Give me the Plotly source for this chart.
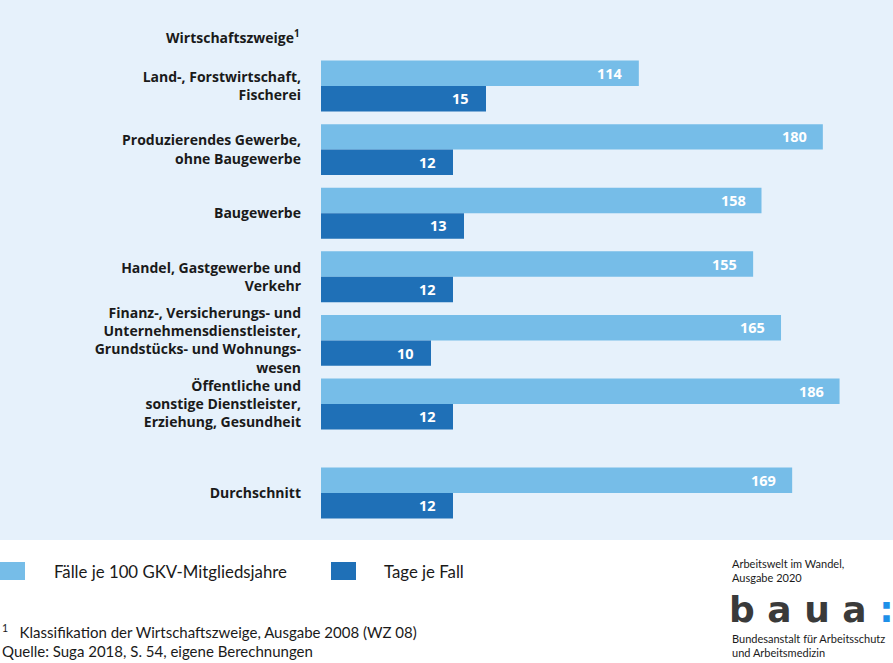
import plotly.graph_objects as go

categories = [
    "Land-, Forstwirtschaft,<br>Fischerei",
    "Produzierendes Gewerbe,<br>ohne Baugewerbe",
    "Baugewerbe",
    "Handel, Gastgewerbe und<br>Verkehr",
    "Finanz-, Versicherungs- und<br>Unternehmensdienstleister,<br>Grundstücks- und Wohnungs-<br>wesen",
    "Öffentliche und<br>sonstige Dienstleister,<br>Erziehung, Gesundheit",
    "Durchschnitt",
]
faelle = [114, 180, 158, 155, 165, 186, 169]
tage = [15, 12, 13, 12, 10, 12, 12]
series_names = ["Fälle je 100 GKV-Mitgliedsjahre", "Tage je Fall"]

LIGHT = "#76BDE8"
DARK = "#1F70B7"
PANEL = "#E6F1FB"
TXT = "#1a1a1a"
FONT = "Lato"
LABFONT = "Open Sans"

# group positions: extra gap before the average row
n = len(categories)
pos = [float(i) for i in range(n - 1)] + [n - 1 + 0.4]

fig = go.Figure()
fig.add_trace(go.Bar(
    y=pos, x=faelle, orientation="h", name=series_names[0],
    marker=dict(color=LIGHT, line=dict(width=0)),
    width=0.4, offset=-0.4, xaxis="x", yaxis="y", showlegend=False,
    hoverinfo="x",
))
fig.add_trace(go.Bar(
    y=pos, x=tage, orientation="h", name=series_names[1],
    marker=dict(color=DARK, line=dict(width=0)),
    width=0.4, offset=0.0, xaxis="x2", yaxis="y", showlegend=False,
    hoverinfo="x",
))

W = 552.0
H = 490.0
L = 321.0
T = 40.0
B = T + H


def px(xp):
    return (xp - L) / W


def py(yp):
    return (B - yp) / H


annotations = []
for p, v in zip(pos, faelle):
    annotations.append(dict(x=v, y=p - 0.2, xref="x", yref="y", text=f"<b>{v}</b>",
                            xanchor="right", xshift=-14, showarrow=False,
                            font=dict(family=LABFONT, size=14.5, color="white")))
for p, v in zip(pos, tage):
    annotations.append(dict(x=v, y=p + 0.2, xref="x2", yref="y", text=f"<b>{v}</b>",
                            xanchor="right", xshift=-15, showarrow=False,
                            font=dict(family=LABFONT, size=14.5, color="white")))

# header
annotations.append(dict(x=px(302), y=py(37), xref="paper", yref="paper", xanchor="right",
                        yanchor="middle", showarrow=False,
                        text="<b>Wirtschaftszweige<sup>1</sup></b>",
                        font=dict(family=LABFONT, size=14, color=TXT)))

shapes = [
    # panel background
    dict(type="rect", xref="paper", yref="paper", x0=px(0), x1=px(893),
         y0=py(540), y1=py(0), fillcolor=PANEL, line=dict(width=0), layer="below"),
    # legend swatches
    dict(type="rect", xref="paper", yref="paper", x0=px(0), x1=px(25),
         y0=py(580), y1=py(562), fillcolor=LIGHT, line=dict(width=0)),
    dict(type="rect", xref="paper", yref="paper", x0=px(331), x1=px(356),
         y0=py(580), y1=py(562), fillcolor=DARK, line=dict(width=0)),
]
annotations.append(dict(x=px(52), y=py(571), xref="paper", yref="paper",
                        xanchor="left", yanchor="middle", showarrow=False, text=series_names[0],
                        font=dict(family=FONT, size=16.8, color=TXT)))
annotations.append(dict(x=px(382), y=py(571), xref="paper", yref="paper",
                        xanchor="left", yanchor="middle", showarrow=False, text=series_names[1],
                        font=dict(family=FONT, size=16.8, color=TXT)))

# footnotes
annotations.append(dict(x=px(0), y=py(631), xref="paper", yref="paper",
                        xanchor="left", yanchor="middle", showarrow=False,
                        text="<sup>1</sup>   Klassifikation der Wirtschaftszweige, Ausgabe 2008 (WZ 08)",
                        font=dict(family=FONT, size=15, color=TXT)))
annotations.append(dict(x=px(0), y=py(651), xref="paper", yref="paper",
                        xanchor="left", yanchor="middle", showarrow=False,
                        text="Quelle: Suga 2018, S. 54, eigene Berechnungen",
                        font=dict(family=FONT, size=15, color=TXT)))

# logo block
annotations.append(dict(x=px(730), y=py(570), xref="paper", yref="paper",
                        xanchor="left", yanchor="middle", showarrow=False, align="left",
                        text="Arbeitswelt im Wandel,<br>Ausgabe 2020",
                        font=dict(family=FONT, size=11, color=TXT)))
annotations.append(dict(x=px(727), y=py(609), xref="paper", yref="paper",
                        xanchor="left", yanchor="middle", showarrow=False, align="left",
                        text="<b>b a u a </b><b><span style='color:#1E90E8'>:</span></b>",
                        font=dict(family="DejaVu Sans", size=36, color="#3a3a3a")))
annotations.append(dict(x=px(730), y=py(645), xref="paper", yref="paper",
                        xanchor="left", yanchor="middle", showarrow=False, align="left",
                        text="Bundesanstalt für Arbeitsschutz<br>und Arbeitsmedizin",
                        font=dict(family=FONT, size=11, color=TXT)))

fig.update_layout(
    width=893, height=663,
    margin=dict(l=L, r=893 - L - W, t=T, b=663 - B, pad=0),
    paper_bgcolor="white", plot_bgcolor=PANEL,
    barmode="overlay",
    xaxis=dict(range=[0, W / 2.788], visible=False, fixedrange=True),
    xaxis2=dict(range=[0, W / 11.0], visible=False, overlaying="x", fixedrange=True),
    yaxis=dict(range=[(B - 86) / 63.6, -(86 - T) / 63.6], tickmode="array",
               tickvals=pos, ticktext=[f"<b>{c}</b>" for c in categories],
               showgrid=False, zeroline=False, showline=False, ticks="",
               ticklabelstandoff=19,
               tickfont=dict(family=LABFONT, size=14, color=TXT), fixedrange=True),
    shapes=shapes,
    annotations=annotations,
    showlegend=False,
)

fig.write_html("out.html", post_script="document.body.style.margin='0px';",
               config={"displayModeBar": False})
